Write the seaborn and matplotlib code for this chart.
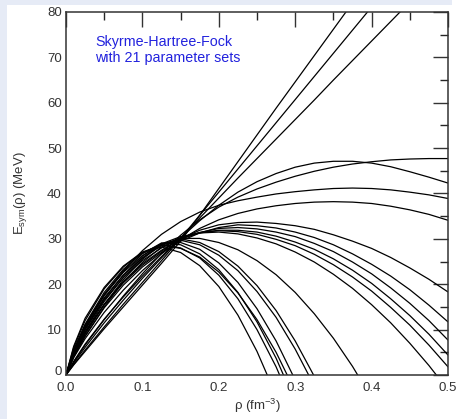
import numpy as np
import pandas as pd
import matplotlib
matplotlib.use("Agg")
import matplotlib.pyplot as plt
import seaborn as sns
from matplotlib.patches import Rectangle
from matplotlib.transforms import ScaledTranslation

# density grid (fm^-3)
RHO = [0, 0.01, 0.025, 0.05, 0.075, 0.1, 0.125, 0.15, 0.175, 0.2, 0.225,
       0.25, 0.275, 0.3, 0.325, 0.35, 0.375, 0.4, 0.425, 0.45, 0.475, 0.5]
N = None

# symmetry energy (MeV), one list per parameter set
S1 = [0, 2.2, 5.2, 10.2, 15.0, 19.8, 24.6, 29.5, 35.2, 41.1, 47.0, 52.9, 58.8, 64.6, 70.4, 76.2, 82.0, N, N, N, N, N]
S2 = [0, 2.3, 5.5, 10.6, 15.6, 20.4, 25.2, 30.1, 35.2, 40.3, 45.4, 50.5, 55.6, 60.7, 65.8, 70.9, 76.0, 81.1, N, N, N, N]
S3 = [0, 2.6, 6.1, 11.5, 16.5, 21.3, 25.8, 30.2, 34.6, 39.0, 43.4, 47.7, 52.0, 56.3, 60.6, 65.0, 69.3, 73.6, 77.9, 82.2, N, N]
P = [0, 3.0, 6.8, 12.3, 17.2, 21.8, 26.1, 30.2, 34.0, 37.4, 40.3, 42.6, 44.4, 45.8, 46.7, 47.1, 47.1, 46.7, 45.9, 44.8, 43.6, 42.3]
Q = [0, 2.8, 6.6, 12.2, 17.4, 22.3, 26.8, 30.8, 34.2, 37.0, 39.2, 41.0, 42.5, 43.8, 44.9, 45.8, 46.5, 47.0, 47.4, 47.6, 47.7, 47.7]
R = [0, 5.5, 11.0, 17.8, 23.0, 27.4, 31.0, 33.8, 35.9, 37.4, 38.4, 39.2, 39.9, 40.4, 40.8, 41.1, 41.2, 41.1, 40.8, 40.3, 39.7, 38.9]
C = [0, 3.8, 8.0, 13.8, 18.7, 23.0, 26.7, 29.8, 32.3, 34.2, 35.6, 36.6, 37.3, 37.8, 38.1, 38.2, 38.1, 37.8, 37.2, 36.4, 35.4, 34.1]
D = [0, 4.5, 9.5, 15.5, 20.3, 24.2, 27.3, 30.0, 31.9, 33.1, 33.6, 33.7, 33.4, 32.9, 32.1, 30.9, 29.5, 27.9, 25.9, 23.6, 21.1, 18.3]
M1 = [0, 4.0, 8.6, 14.8, 19.8, 23.8, 27.0, 29.5, 31.3, 32.5, 33.1, 32.9, 32.4, 31.5, 30.3, 28.7, 26.7, 24.4, 21.8, 18.8, 15.4, 11.7]
M2 = [0, 4.3, 9.2, 15.6, 20.6, 24.5, 27.5, 29.9, 31.4, 32.3, 32.5, 32.2, 31.5, 30.5, 29.0, 27.2, 24.9, 22.3, 19.2, 15.8, 12.0, 7.7]
M3 = [0, 4.8, 10.0, 16.5, 21.5, 25.2, 28.0, 30.1, 31.3, 31.9, 31.9, 31.5, 30.6, 29.3, 27.7, 25.6, 23.1, 20.2, 16.8, 13.1, 9.0, 4.4]
M4 = [0, 5.0, 10.3, 17.0, 22.0, 25.8, 28.5, 30.3, 31.4, 31.8, 31.6, 31.0, 29.9, 28.5, 26.6, 24.3, 21.6, 18.5, 14.9, 11.0, 6.6, 1.8]
M5 = [0, 5.2, 10.8, 17.6, 22.6, 26.3, 28.9, 30.5, 31.3, 31.5, 31.1, 30.2, 28.9, 27.1, 24.9, 22.2, 19.1, 15.5, 11.5, 7.0, 2.1, -3.3]
F1 = [0, 6.0, 12.0, 19.0, 23.8, 27.0, 28.2, 27.0, 24.1, 19.5, 13.2, 5.2, -4.5, N, N, N, N, N, N, N, N, N]
F2 = [0, 5.5, 11.2, 18.2, 23.3, 26.9, 28.8, 28.0, 25.8, 22.0, 16.8, 10.0, 1.8, -8.0, N, N, N, N, N, N, N, N]
F3 = [0, 5.0, 10.5, 17.5, 22.8, 26.7, 29.1, 28.7, 26.7, 23.2, 18.2, 11.7, 3.7, -5.9, N, N, N, N, N, N, N, N]
F4 = [0, 6.3, 12.5, 19.3, 24.0, 27.1, 28.6, 27.9, 26.0, 22.7, 18.1, 12.2, 5.0, -3.6, N, N, N, N, N, N, N, N]
F5 = [0, 4.8, 10.0, 16.8, 22.0, 26.2, 29.0, 29.2, 27.7, 24.7, 20.4, 14.6, 7.5, -1.1, N, N, N, N, N, N, N, N]
F6 = [0, 4.5, 9.5, 16.2, 21.5, 25.8, 28.9, 29.7, 28.7, 26.4, 23.0, 18.4, 12.7, 5.7, -2.4, N, N, N, N, N, N, N]
F7 = [0, 4.2, 9.0, 15.5, 21.0, 25.5, 28.8, 30.0, 29.2, 27.2, 24.0, 19.7, 14.2, 7.5, -0.3, N, N, N, N, N, N, N]
F8 = [0, 4.0, 8.5, 15.0, 20.5, 24.8, 28.2, 30.1, 30.1, 29.2, 27.6, 25.2, 22.1, 18.2, 13.5, 8.1, 1.9, -5.1, N, N, N, N]

SETS = {"S1": S1, "S2": S2, "S3": S3, "P": P, "Q": Q, "R": R, "C": C, "D": D,
        "M1": M1, "M2": M2, "M3": M3, "M4": M4, "M5": M5,
        "F1": F1, "F2": F2, "F3": F3, "F4": F4, "F5": F5, "F6": F6, "F7": F7, "F8": F8}

X_TICKS = [0.0, 0.1, 0.2, 0.3, 0.4, 0.5]
Y_TICKS = [0, 10, 20, 30, 40, 50, 60, 70, 80]

rows = []
for name, vals in SETS.items():
    for r, e in zip(RHO, vals):
        if e is not None:
            rows.append((name, r, e))
df = pd.DataFrame(rows, columns=["set", "rho", "esym"])

sns.set_theme(style="white")
plt.rcParams["font.family"] = ["Liberation Sans", "DejaVu Sans"]
plt.rcParams["mathtext.fontset"] = "custom"
plt.rcParams["mathtext.rm"] = "Liberation Sans"
plt.rcParams["mathtext.it"] = "Liberation Sans:italic"

fig = plt.figure(figsize=(4.59, 4.19), dpi=100, facecolor="white")
# light frame on left and top
fig.patches.append(Rectangle((0, 0), 7 / 459, 1, transform=fig.transFigure,
                             facecolor="#e6ebf6", edgecolor="none", zorder=-10))
fig.patches.append(Rectangle((0, 1 - 5 / 419), 452 / 459, 5 / 419, transform=fig.transFigure,
                             facecolor="#e6ebf6", edgecolor="none", zorder=-10))

ax = fig.add_axes([66 / 459, 1 - 375 / 419, (448 - 66) / 459, (375 - 12) / 419])
ax.set_facecolor("white")

sns.lineplot(data=df, x="rho", y="esym", units="set", estimator=None,
             color="black", linewidth=0.9, sort=True, ax=ax, legend=False)

ax.set_xlim(0, 0.5)
ax.set_ylim(0, 80)
ax.set_xticks(X_TICKS)
ax.set_xticklabels([f"{t:.1f}" for t in X_TICKS])
ax.set_yticks(Y_TICKS)
ax.set_yticklabels([str(t) for t in Y_TICKS])
ax.set_xticks(np.arange(0.05, 0.5, 0.1), minor=True)
ax.set_yticks(np.arange(5, 80, 10), minor=True)
ax.tick_params(which="major", direction="in", length=11, width=1.0, top=True, right=True,
               labelsize=9.5, colors="#333333")
ax.tick_params(axis="x", which="major", pad=5)
ax.tick_params(axis="y", which="major", pad=3)
ax.tick_params(which="minor", direction="in", length=5.5, width=1.0, top=True, right=True)
for s in ax.spines.values():
    s.set_linewidth(1.1)
    s.set_color("#333333")

# lift the "0" y label slightly so it sits clear of the "0.0" x label
zero_lbl = ax.get_yticklabels()[0]
zero_lbl.set_transform(zero_lbl.get_transform() + ScaledTranslation(0, 3 / 72, fig.dpi_scale_trans))

ax.set_xlabel("ρ (fm$^{-3}$)", fontsize=9.5, color="#333333", labelpad=2)
ax.set_ylabel("E$_{\\mathrm{sym}}$(ρ) (MeV)", fontsize=9.5, color="#333333", labelpad=13)

ax.text(0.038, 71.7, "Skyrme-Hartree-Fock\nwith 21 parameter sets", color="#2222dd",
        fontsize=10.3, ha="left", va="center", linespacing=1.2)

fig.savefig("out.png", dpi=100, facecolor="white")
